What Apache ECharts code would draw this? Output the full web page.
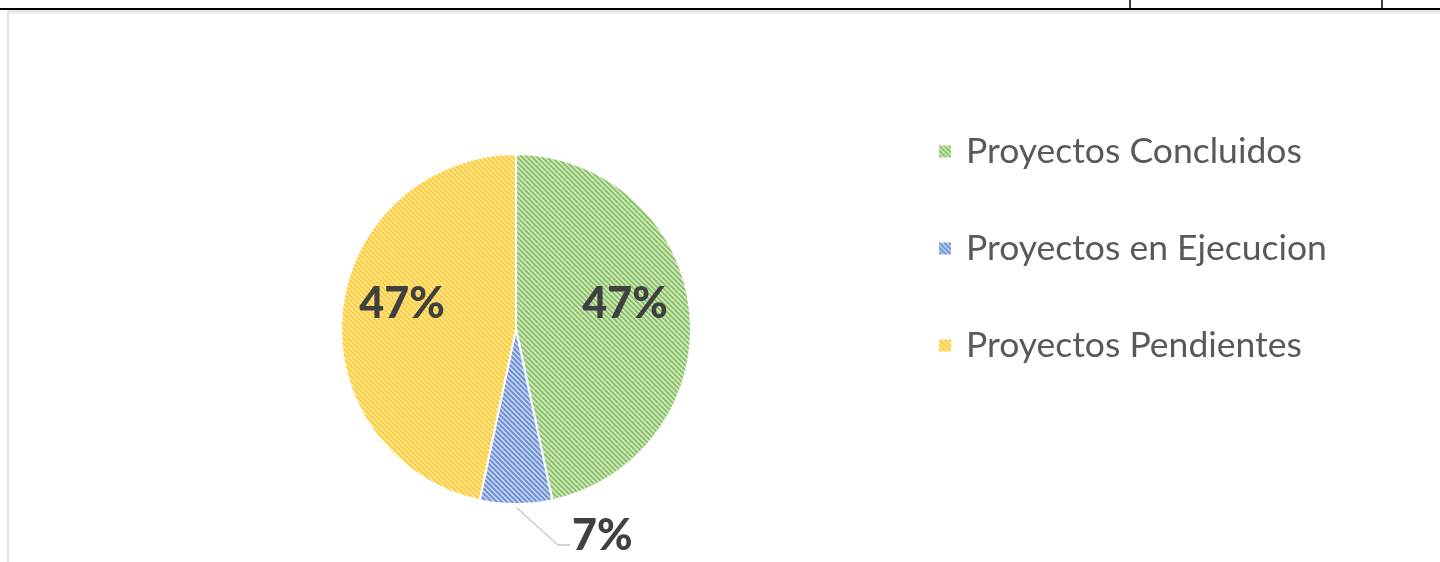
<!DOCTYPE html>
<html>
<head>
<meta charset="utf-8">
<script src="https://cdn.jsdelivr.net/npm/echarts@6/dist/echarts.min.js"></script>
<style>
html,body{margin:0;padding:0;background:#fff;}
#chart{width:1440px;height:562px;}
</style>
</head>
<body>
<div id="chart"></div>
<script>
// Data
var categories = ['Proyectos Concluidos', 'Proyectos en Ejecucion', 'Proyectos Pendientes'];
var values = [7, 1, 7];

// Styles
var palette = [
  {bg: '#d6ecc6', fg: '#8cc269'},
  {bg: '#ccd9f2', fg: '#6f92d6'},
  {bg: '#ffeda8', fg: '#ffca35'}
];

function makePattern(bg, fg) {
  var s = 5;
  var c = document.createElement('canvas');
  c.width = s; c.height = s;
  var ctx = c.getContext('2d');
  ctx.fillStyle = bg;
  ctx.fillRect(0, 0, s, s);
  ctx.strokeStyle = fg;
  ctx.lineWidth = 2;
  ctx.beginPath();
  for (var k = -s; k <= s; k += s) {
    ctx.moveTo(k - 1, -1);
    ctx.lineTo(k + s + 1, s + 1);
  }
  ctx.stroke();
  return {image: c, repeat: 'repeat'};
}

var chart = echarts.init(document.getElementById('chart'), null, {renderer: 'canvas'});

var seriesData = categories.map(function (name, i) {
  return {
    name: name,
    value: values[i],
    itemStyle: {color: makePattern(palette[i].bg, palette[i].fg)}
  };
});

var labelFont = 'Lato, "Liberation Sans", sans-serif';

var option = {
  backgroundColor: '#ffffff',
  animation: false,
  graphic: [
    {type: 'line', shape: {x1: 0, y1: 9, x2: 1440, y2: 9}, style: {stroke: '#000', lineWidth: 2}},
    {type: 'line', shape: {x1: 1130, y1: 0, x2: 1130, y2: 9}, style: {stroke: '#000', lineWidth: 1.5}},
    {type: 'line', shape: {x1: 1382, y1: 0, x2: 1382, y2: 9}, style: {stroke: '#000', lineWidth: 1.5}},
    {type: 'rect', shape: {x: 8, y: 11, width: 1500, height: 600}, style: {fill: 'none', stroke: '#d9d9d9', lineWidth: 1.5}},
    {type: 'line', shape: {x1: 8, y1: 13, x2: 1440, y2: 13}, style: {stroke: '#f0f0f0', lineWidth: 2}}
  ],
  legend: {
    orient: 'vertical',
    left: 937,
    top: 133.5,
    padding: 0,
    itemWidth: 14,
    itemHeight: 14,
    itemGap: 61,
    icon: 'rect',
    textStyle: {
      fontFamily: 'Lato, "Open Sans", sans-serif',
      fontSize: 35.5,
      lineHeight: 36,
      color: '#595959',
      padding: [0, 0, 0, 9]
    },
    data: categories
  },
  series: [{
    type: 'pie',
    center: [516, 329],
    radius: 175,
    startAngle: 90,
    clockwise: true,
    itemStyle: {borderColor: '#ffffff', borderWidth: 2},
    label: {
      show: true,
      position: 'inside',
      formatter: function (p) { return Math.round(p.percent) + '%'; },
      fontFamily: labelFont,
      fontWeight: 900,
      fontSize: 43,
      color: '#404040'
    },
    labelLine: {show: false},
    data: seriesData.map(function (d, i) {
      if (i === 1) {
        d.label = {position: 'outside'};
        d.labelLine = {show: true, length: 20, length2: 12, lineStyle: {color: '#a6a6a6', width: 1}};
      }
      return d;
    }),
    labelLayout: function (params) {
      if (params.dataIndex === 0) {
        return {dx: 19, dy: -15};
      }
      if (params.dataIndex === 2) {
        return {dx: -24, dy: -15};
      }
      var pts = params.labelLinePoints;
      if (pts && pts.length) {
        var p0 = pts[0];
        return {
          x: p0[0] + 56,
          y: p0[1] + 32,
          align: 'left',
          verticalAlign: 'middle',
          labelLinePoints: [
            [p0[0] + 1, p0[1] + 4],
            [p0[0] + 42, p0[1] + 41],
            [p0[0] + 54, p0[1] + 41]
          ]
        };
      }
      return {};
    }
  }]
};

chart.setOption(option);
</script>
</body>
</html>
